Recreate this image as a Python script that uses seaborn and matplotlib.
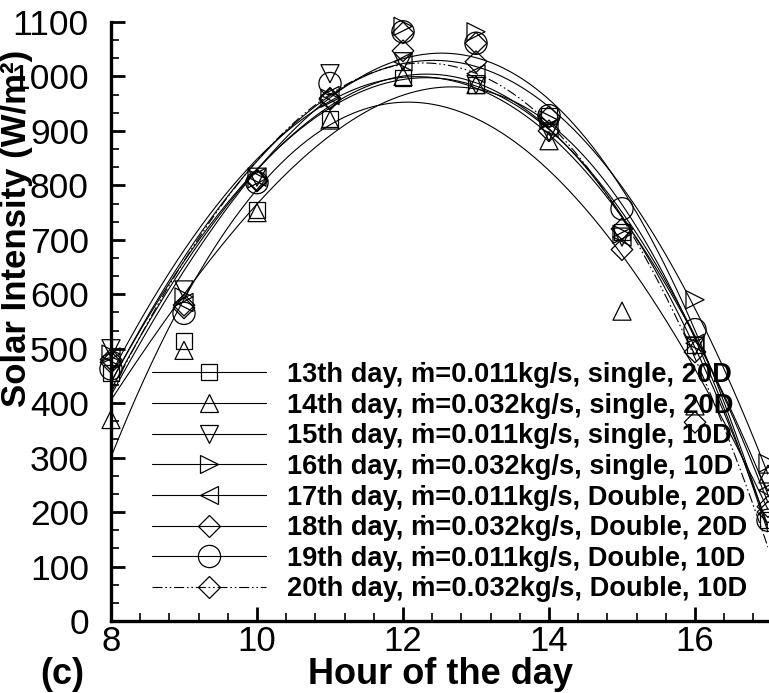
import numpy as np
import pandas as pd
import matplotlib
matplotlib.use("Agg")
import matplotlib.pyplot as plt
import seaborn as sns
from matplotlib.lines import Line2D
from matplotlib.ticker import MultipleLocator

# ---------------- data ----------------
hours = [8, 9, 10, 11, 12, 13, 14, 15, 16, 17]
day13 = [455, 515, 755, 922, 998, 985, 928, 715, 507, 185]
day14 = [370, 497, 750, 920, 1000, 985, 882, 569, 395, 270]
day15 = [500, 608, 815, 1005, 1027, 985, 898, 705, 505, 255]
day16 = [490, 595, 812, 960, 1092, 1082, 920, 710, 590, 290]
day17 = [485, 585, 815, 965, 1027, 1005, 905, 705, 510, 240]
day18 = [475, 575, 808, 958, 1047, 1027, 900, 682, 494, 200]
day19 = [463, 565, 805, 987, 1082, 1061, 928, 757, 535, 185]
day20 = [480, 580, 810, 960, 1080, 1061, 926, 720, 365, 210]

labels = [
    "13th day, \u1e41=0.011kg/s, single, 20D",
    "14th day, \u1e41=0.032kg/s, single, 20D",
    "15th day, \u1e41=0.011kg/s, single, 10D",
    "16th day, \u1e41=0.032kg/s, single, 10D",
    "17th day, \u1e41=0.011kg/s, Double, 20D",
    "18th day, \u1e41=0.032kg/s, Double, 20D",
    "19th day, \u1e41=0.011kg/s, Double, 10D",
    "20th day, \u1e41=0.032kg/s, Double, 10D",
]
series = [day13, day14, day15, day16, day17, day18, day19, day20]

# ---------------- styles ----------------
markers = ["s", "^", "v", ">", "<", "D", "o", "D"]
msizes = [11.5, 13, 13, 13, 13, 11, 16, 11]
dashdot = (0, (9, 2.5, 1.5, 2.5, 1.5, 2.5))
lstyles = ["-"] * 7 + [dashdot]

sns.set_theme(style="white")
plt.rcParams["font.family"] = ["Liberation Sans", "DejaVu Sans"]
for k in ["text.color", "axes.labelcolor", "xtick.color", "ytick.color",
          "xtick.labelcolor", "ytick.labelcolor"]:
    plt.rcParams[k] = "black"

fig = plt.figure(figsize=(7.69, 6.93), dpi=100)
ax = fig.add_axes([111 / 769, 72 / 693, 657 / 769, 599 / 693])

xs = np.linspace(8, 17, 400)
handles = []
for vals, lab, m, ms, ls in zip(series, labels, markers, msizes, lstyles):
    coef = np.polyfit(hours, vals, 3)
    fit = pd.DataFrame({"x": xs, "y": np.polyval(coef, xs)})
    sns.lineplot(data=fit, x="x", y="y", ax=ax, color="black", lw=0.8,
                 linestyle=ls, estimator=None, sort=False)
    pts = pd.DataFrame({"x": hours, "y": vals})
    sns.scatterplot(data=pts, x="x", y="y", ax=ax, marker=m, s=ms ** 2,
                    facecolors="none", edgecolor="black", linewidth=0.9,
                    zorder=3, clip_on=False, legend=False)
    handles.append(Line2D([], [], color="black", lw=0.8, linestyle=ls,
                          marker=m, markersize=ms, markerfacecolor="none",
                          markeredgecolor="black", markeredgewidth=0.9))

ax.set_xlim(8, 17)
ax.set_ylim(0, 1100)
ax.set_xticks([8, 10, 12, 14, 16])
ax.set_yticks(np.arange(0, 1101, 100))
ax.xaxis.set_minor_locator(MultipleLocator(0.4))
ax.yaxis.set_minor_locator(MultipleLocator(100 / 3))
ax.tick_params(which="major", direction="in", length=10, width=2.0,
               color="black", bottom=True, left=True)
ax.tick_params(which="minor", direction="in", length=6, width=1.2,
               color="black", bottom=True, left=True)
ax.tick_params(axis="y", which="major", labelsize=25.5, pad=16,
               labelcolor="black")
ax.tick_params(axis="x", which="major", labelsize=25, pad=3,
               labelcolor="black")
for s in ["top", "right"]:
    ax.spines[s].set_visible(False)
for s in ["left", "bottom"]:
    ax.spines[s].set_linewidth(2.4)
    ax.spines[s].set_color("black")

ax.set_xlabel("")
ax.set_ylabel("Solar Intensity (W/m\u00b2)", fontsize=25, fontweight="bold",
              color="black")
ax.yaxis.set_label_coords(-0.118, 0.655)

fig.text(440 / 769, 9 / 693, "Hour of the day", fontsize=26,
         fontweight="bold", ha="center", va="baseline", color="black")
fig.text(40 / 769, 9 / 693, "(c)", fontsize=26, fontweight="bold",
         ha="left", va="baseline", color="black")

leg = ax.legend(handles, labels, loc="upper left",
                bbox_to_anchor=(152 / 769, 1 - 362 / 693),
                bbox_transform=fig.transFigure, frameon=False,
                prop={"weight": "bold", "size": 19.6},
                handlelength=4.2, handletextpad=0.75, labelspacing=0.17,
                borderpad=0, borderaxespad=0)
for t in leg.get_texts():
    t.set_color("black")

fig.savefig("out.png", dpi=100)
